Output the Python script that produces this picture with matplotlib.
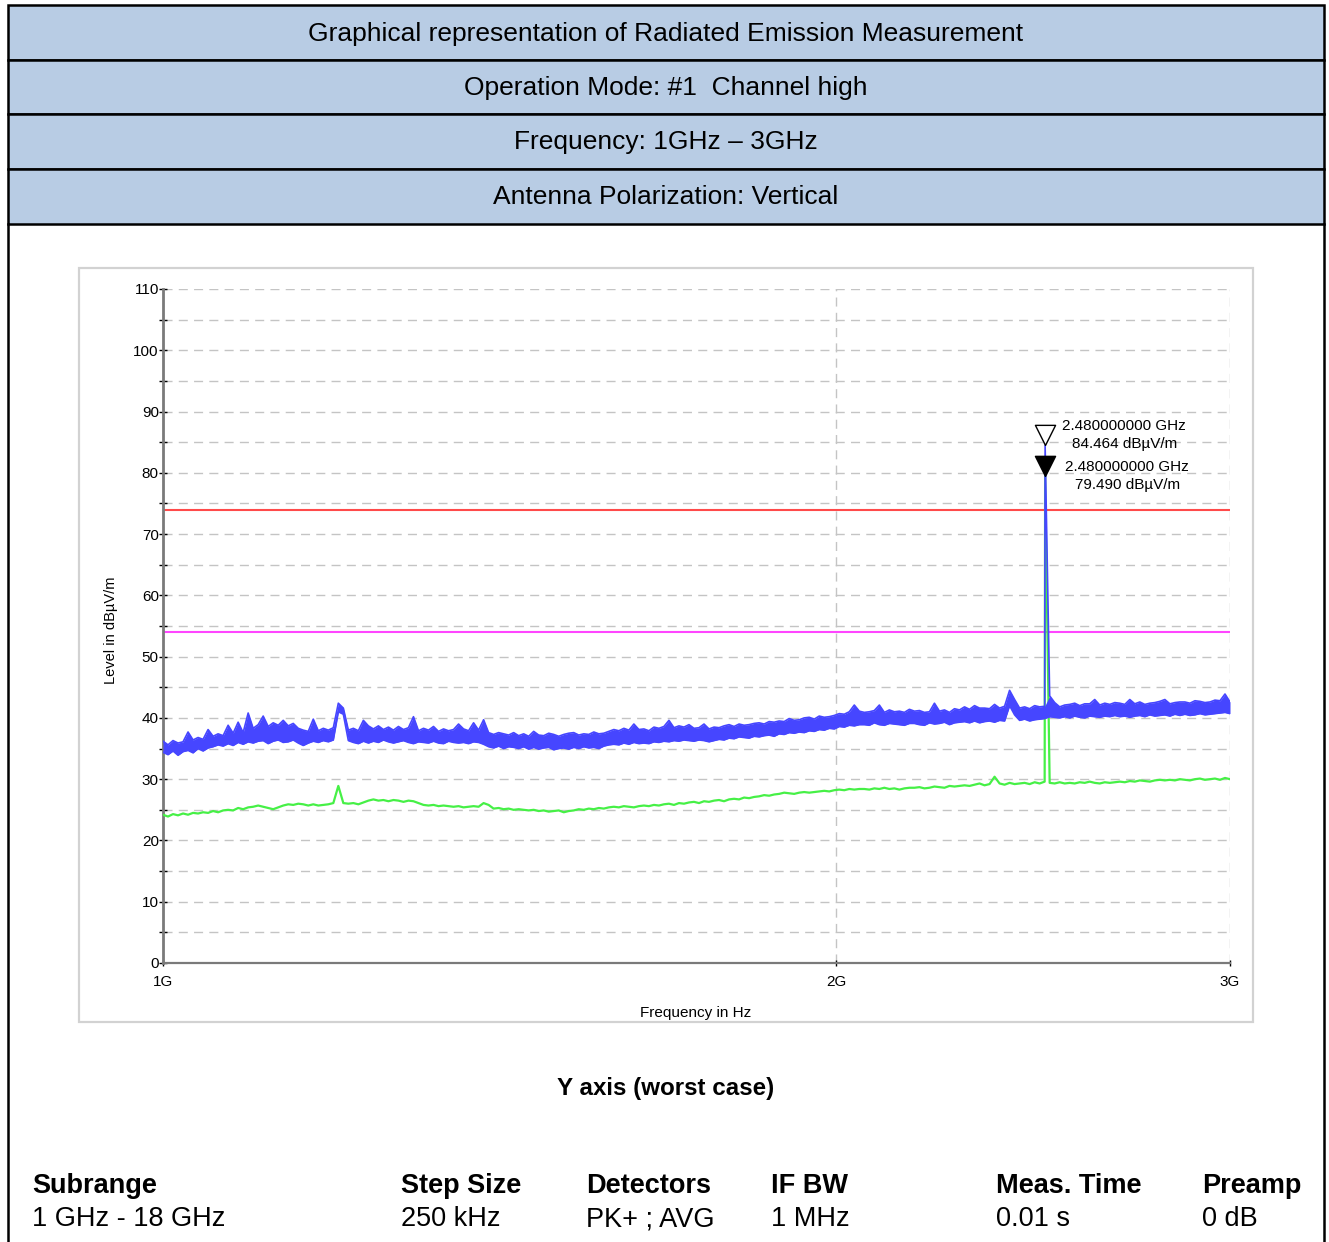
import numpy as np
import matplotlib

matplotlib.use("Agg")
import matplotlib.pyplot as plt
from matplotlib.lines import Line2D
from matplotlib.patches import Rectangle
from matplotlib.ticker import FixedLocator, MultipleLocator, NullLocator

plt.rcParams["font.family"] = ["Liberation Sans", "DejaVu Sans"]

W, H = 1329, 1242

HEADER_ROWS = [
    "Graphical representation of Radiated Emission Measurement",
    "Operation Mode: #1  Channel high",
    "Frequency: 1GHz \u2013 3GHz",
    "Antenna Polarization: Vertical",
]

F_START, F_STOP = 1e9, 3e9
X_TICKS = [1e9, 2e9, 3e9]
X_TICK_LABELS = ["1G", "2G", "3G"]

# PK+ trace, top and bottom of the noise band (dBuV/m),
# readings evenly spaced along the log frequency axis
PEAK_HI = [
    36.2, 35.6, 36.3, 35.9, 36.1, 37.7, 36.4, 36.8, 36.5, 38.1,
    37.0, 37.4, 37.1, 38.8, 37.5, 39.3, 37.6, 40.8, 38.3, 38.9,
    40.3, 38.6, 39.2, 38.8, 39.6, 38.7, 39.1, 38.3, 38.0, 37.8,
    39.8, 37.9, 38.3, 38.0, 38.4, 42.4, 41.6, 38.0, 38.3, 37.9,
    39.6, 38.7, 38.2, 38.7, 38.1, 38.5, 38.0, 38.6, 38.1, 38.4,
    40.2, 37.9, 38.3, 38.0, 38.6, 37.8, 38.2, 37.9, 38.1, 39.0,
    38.2, 37.9, 39.2, 38.0, 39.7, 37.6, 37.3, 37.6, 37.4, 37.2,
    37.6, 37.1, 37.4, 37.0, 37.8, 37.2, 37.1, 37.5, 37.3, 37.0,
    37.3, 37.5, 37.6, 37.2, 37.4, 37.3, 37.7, 37.4, 37.5, 37.8,
    38.1, 37.9, 38.3, 38.0, 39.0, 38.1, 38.2, 37.9, 38.5, 38.3,
    38.6, 39.6, 38.4, 38.7, 38.5, 38.9, 38.3, 38.4, 39.0, 38.2,
    38.5, 38.4, 38.7, 38.9, 38.6, 39.0, 38.8, 38.9, 39.1, 39.2,
    39.0, 39.4, 39.3, 39.5, 39.4, 39.9, 39.6, 39.7, 40.0, 40.1,
    39.8, 40.3, 40.1, 40.2, 40.4, 40.7, 40.6, 41.0, 42.1, 41.1,
    40.9, 41.0, 41.2, 42.1, 40.9, 41.3, 41.0, 41.1, 40.9, 41.4,
    41.1, 41.2, 40.9, 41.0, 42.4, 41.1, 41.3, 40.9, 41.5, 41.3,
    41.8, 41.4, 42.0, 41.6, 41.6, 41.5, 42.2, 41.6, 41.9, 44.5,
    43.0, 41.6, 41.8, 41.5, 42.0, 41.8, 41.9, 43.6, 42.5, 41.8,
    42.1, 42.2, 42.4, 42.0, 42.3, 42.3, 43.0, 42.1, 42.4, 42.2,
    42.5, 42.4, 42.2, 43.0, 42.3, 42.6, 42.2, 42.4, 42.5, 42.7,
    43.0, 42.3, 42.5, 42.6, 42.6, 42.4, 42.8, 42.7, 42.5, 42.6,
    42.9, 42.8, 43.9, 42.6,
]
PEAK_LO = [
    34.4, 34.0, 34.6, 33.9, 34.5, 34.7, 34.3, 35.0, 34.6, 35.1,
    35.3, 35.6, 35.4, 35.8, 35.5, 36.0, 35.7, 36.1, 35.9, 36.2,
    36.3, 35.8, 36.2, 36.4, 36.0, 36.1, 36.4, 35.9, 35.5, 35.9,
    36.2, 36.0, 36.3, 36.1, 36.4, 41.0, 40.6, 36.3, 36.0, 35.8,
    36.2, 35.9, 36.2, 36.0, 36.4, 36.1, 35.9, 36.1, 36.3, 36.0,
    35.8, 36.1, 36.0, 35.9, 36.2, 35.9, 35.8, 36.2, 36.0, 35.9,
    36.0, 35.8, 36.1, 36.0, 35.7, 35.3, 35.1, 35.4, 35.0, 35.3,
    35.2, 35.0, 35.3, 34.9, 35.2, 34.9, 35.1, 35.2, 34.8, 35.0,
    35.1, 34.9, 35.2, 35.0, 35.3, 35.1, 35.2, 35.0, 35.4, 35.6,
    35.7, 35.6, 35.9, 35.7, 36.0, 35.8, 35.9, 35.8, 36.1, 36.0,
    36.2, 36.1, 36.3, 36.2, 36.4, 36.3, 36.2, 36.4, 36.3, 36.1,
    36.3, 36.5, 36.4, 36.7, 36.6, 36.9, 36.8, 36.7, 37.0, 36.9,
    37.1, 37.2, 37.0, 37.4, 37.3, 37.6, 37.5, 37.7, 37.6, 37.9,
    37.8, 38.1, 38.0, 38.3, 38.2, 38.6, 38.5, 38.8, 38.7, 38.9,
    38.9, 38.8, 39.2, 38.9, 38.8, 39.1, 39.0, 38.9, 38.8, 39.1,
    39.1, 38.9, 38.8, 39.2, 39.0, 39.1, 39.3, 38.9, 39.2, 39.3,
    39.4, 39.2, 39.5, 39.2, 39.4, 39.5, 39.3, 39.6, 39.5, 42.0,
    40.5, 39.6, 39.8, 39.5, 39.7, 39.8, 39.9, 40.2, 40.1, 40.0,
    40.2, 40.0, 40.3, 40.1, 40.0, 40.3, 40.2, 40.1, 40.3, 40.2,
    40.4, 40.2, 40.3, 40.1, 40.3, 40.4, 40.2, 40.5, 40.3, 40.4,
    40.5, 40.3, 40.6, 40.4, 40.6, 40.4, 40.5, 40.7, 40.5, 40.6,
    40.7, 40.8, 40.9, 40.7,
]

# AVG readings (dBuV/m) on the same grid
AVG = [
    24.2, 23.9, 24.3, 24.1, 24.4, 24.2, 24.5, 24.4, 24.6, 24.5,
    24.8, 24.6, 24.9, 25.0, 24.9, 25.3, 25.1, 25.4, 25.5, 25.7,
    25.5, 25.3, 25.1, 25.4, 25.7, 25.9, 25.8, 26.0, 25.9, 25.7,
    25.9, 25.7, 25.8, 25.9, 26.1, 28.9, 26.1, 26.0, 26.1, 25.9,
    26.2, 26.5, 26.7, 26.5, 26.6, 26.4, 26.6, 26.5, 26.3, 26.5,
    26.4, 26.1, 25.8, 25.7, 25.8, 25.6, 25.7, 25.6, 25.5, 25.6,
    25.4, 25.5, 25.6, 25.5, 26.1, 25.8, 25.2, 25.3, 25.1, 25.2,
    25.0, 25.1, 25.0, 24.9, 25.0, 24.8, 24.9, 24.7, 24.8, 24.9,
    24.6, 24.8, 24.9, 25.1, 25.0, 25.2, 25.1, 25.3, 25.2, 25.4,
    25.5, 25.4, 25.6, 25.5, 25.4, 25.6, 25.7, 25.6, 25.8, 25.7,
    25.9, 26.0, 25.8, 26.1, 26.0, 26.2, 26.3, 26.1, 26.4, 26.3,
    26.5, 26.6, 26.4, 26.7, 26.8, 26.7, 27.0, 26.9, 27.1, 27.2,
    27.4, 27.3, 27.5, 27.6, 27.8, 27.7, 27.6, 27.8, 27.9, 27.8,
    27.9, 28.0, 28.1, 28.0, 28.2, 28.3, 28.2, 28.4, 28.3, 28.4,
    28.4, 28.3, 28.5, 28.4, 28.6, 28.4, 28.5, 28.3, 28.5, 28.6,
    28.6, 28.7, 28.5, 28.6, 28.8, 28.7, 28.6, 28.9, 28.8, 28.9,
    29.0, 28.9, 29.1, 29.3, 29.0, 29.2, 30.4, 29.3, 29.1, 29.4,
    29.2, 29.3, 29.4, 29.2, 29.5, 29.3, 29.6, 29.4, 29.3, 29.5,
    29.3, 29.4, 29.3, 29.5, 29.4, 29.6, 29.4, 29.3, 29.5, 29.4,
    29.5, 29.6, 29.5, 29.7, 29.6, 29.8, 29.7, 29.6, 29.8, 29.9,
    29.8, 29.9, 29.8, 30.0, 29.9, 29.8, 30.0, 30.1, 29.9, 30.0,
    30.1, 29.9, 30.2, 30.0,
]

MARKER_FREQ = 2.48e9
MARKER_PEAK = 84.464
MARKER_AVG = 79.490

LIMIT_PEAK = 74.0
LIMIT_AVG = 54.0

SETTINGS_HEAD = ["Subrange", "Step Size", "Detectors", "IF BW", "Meas. Time", "Preamp"]
SETTINGS_VAL = ["1 GHz - 18 GHz", "250 kHz", "PK+ ; AVG", "1 MHz", "0.01 s", "0 dB"]
SETTINGS_X = [32, 401, 586, 771, 996, 1202]

BLUE = "#4646ff"
GREEN = "#46f046"
RED = "#ff4a4a"
MAGENTA = "#ff46ff"
HEAD_FILL = "#b8cce4"
GRID = "#c4c4c4"


def fx(px):
    return px / W


def fy(py):
    return 1 - py / H


def with_marker(freqs, levels, f0, level0):
    i = np.searchsorted(freqs, f0)
    return np.insert(freqs, i, f0), np.insert(np.asarray(levels), i, level0)


fig = plt.figure(figsize=(W / 100, H / 100), dpi=100)

# header table
rows_y = [5, 60, 114, 169, 224]
for k, text in enumerate(HEADER_ROWS):
    y0, y1 = rows_y[k], rows_y[k + 1]
    fig.patches.append(Rectangle((fx(8), fy(y1)), fx(1324) - fx(8), fy(y0) - fy(y1),
                                 transform=fig.transFigure, facecolor=HEAD_FILL,
                                 edgecolor="black", lw=1.8))
    fig.text(fx(666), fy((y0 + y1) / 2 + 1), text, ha="center", va="center", fontsize=19)
for x in (8, 1324):
    fig.add_artist(Line2D([fx(x), fx(x)], [fy(224), 0], transform=fig.transFigure,
                          color="black", lw=1.8))

# light frame round the plot
fig.patches.append(Rectangle((fx(79), fy(1022)), fx(1253) - fx(79), fy(268) - fy(1022),
                             transform=fig.transFigure, facecolor="none",
                             edgecolor="#d2d2d2", lw=1.6))

ax = fig.add_axes([fx(163), fy(963), fx(1230) - fx(163), fy(289) - fy(963)])
ax.set_xscale("log")
ax.set_xlim(F_START, F_STOP)
ax.set_ylim(0, 110)

freqs = np.geomspace(F_START, F_STOP, len(PEAK_HI))

fa, ya = with_marker(freqs, AVG, MARKER_FREQ, MARKER_AVG)
ax.plot(fa, ya, color=GREEN, lw=1.6, zorder=3)

# peak trace: solid noise band with jagged top and bottom edges
ax.fill_between(freqs, PEAK_LO, PEAK_HI, color=BLUE, lw=0, zorder=4)
fh, yh = with_marker(freqs, PEAK_HI, MARKER_FREQ, MARKER_PEAK)
ax.plot(fh, yh, color=BLUE, lw=1.2, zorder=4)
ax.plot(freqs, PEAK_LO, color=BLUE, lw=1.2, zorder=4)

ax.axhline(LIMIT_PEAK, color=RED, lw=1.5, zorder=2)
ax.axhline(LIMIT_AVG, color=MAGENTA, lw=1.5, zorder=2)

# markers: triangle tip sits on the level
tip_down = [(0, 0), (-1, 2), (1, 2), (0, 0)]
ax.plot([MARKER_FREQ], [MARKER_PEAK], marker=tip_down, ms=29, mfc="white",
        mec="black", mew=1.0, ls="none", zorder=6, clip_on=False)
ax.plot([MARKER_FREQ], [MARKER_AVG], marker=tip_down, ms=29, mfc="black",
        mec="black", mew=1.0, ls="none", zorder=6, clip_on=False)
ax.annotate(f"{MARKER_FREQ / 1e9:.9f} GHz\n{MARKER_PEAK:.3f} dB\u00b5V/m",
            (MARKER_FREQ, MARKER_PEAK), xytext=(57, 7.5), textcoords="offset points",
            ha="center", va="center", fontsize=11, linespacing=1.3, zorder=7)
ax.annotate(f"{MARKER_FREQ / 1e9:.9f} GHz\n{MARKER_AVG:.3f} dB\u00b5V/m",
            (MARKER_FREQ, MARKER_AVG), xytext=(59, 0), textcoords="offset points",
            ha="center", va="center", fontsize=11, linespacing=1.3, zorder=7)

# axes styling
ax.xaxis.set_major_locator(FixedLocator(X_TICKS))
ax.xaxis.set_minor_locator(NullLocator())
ax.set_xticklabels(X_TICK_LABELS)
ax.yaxis.set_major_locator(MultipleLocator(10))
ax.yaxis.set_minor_locator(MultipleLocator(5))
ax.grid(True, which="both", axis="y", color=GRID, lw=1.0, ls=(0, (6.5, 4.5)))
ax.grid(True, which="major", axis="x", color=GRID, lw=1.0, ls=(0, (6.5, 4.5)))
for side in ("top", "right"):
    ax.spines[side].set_visible(False)
ax.spines["left"].set_color("#7a7a7a")
ax.spines["left"].set_linewidth(2.0)
ax.spines["bottom"].set_color("#7a7a7a")
ax.spines["bottom"].set_linewidth(1.6)
ax.tick_params(axis="y", which="both", direction="inout", length=6, width=1.0,
               color="black", labelsize=11, pad=0)
ax.tick_params(axis="x", which="both", direction="inout", length=5, width=1.0,
               color="black", labelsize=11, pad=6)
ax.set_axisbelow(True)

fig.text(fx(111), fy(630), "Level in dB\u00b5V/m", rotation=90, ha="center",
         va="center", fontsize=10.5)
fig.text(fx(696), fy(1013), "Frequency in Hz", ha="center", va="center", fontsize=11)

fig.text(fx(666), fy(1088), "Y axis (worst case)", ha="center", va="center",
         fontsize=17.4, fontweight="bold")

for x, head, val in zip(SETTINGS_X, SETTINGS_HEAD, SETTINGS_VAL):
    fig.text(fx(x), fy(1186), head, ha="left", va="center", fontsize=19.5,
             fontweight="bold")
    fig.text(fx(x), fy(1219), val, ha="left", va="center", fontsize=19.5)

fig.savefig("out.png", dpi=100)
